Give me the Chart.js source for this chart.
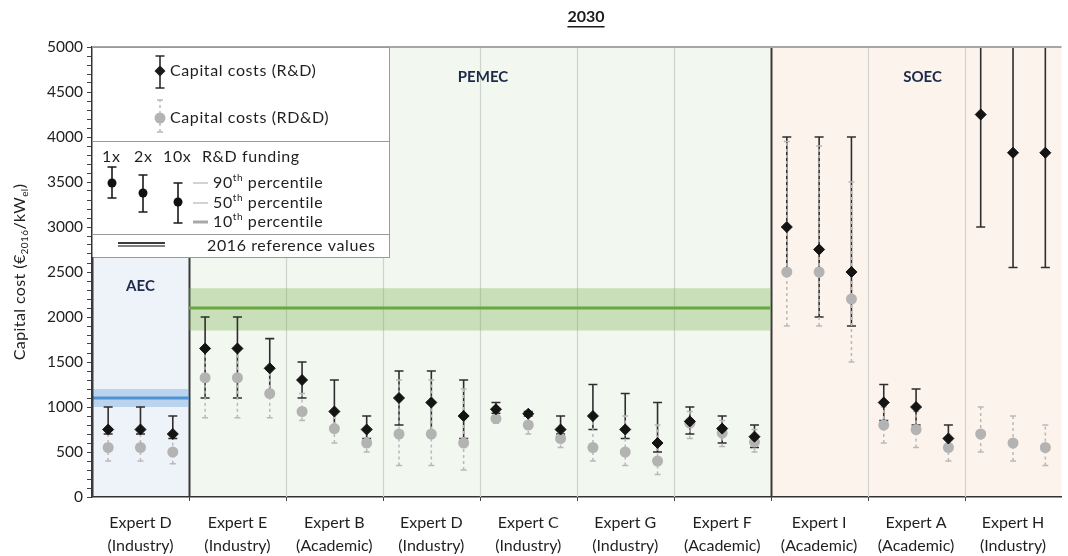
<!DOCTYPE html>
<html>
<head>
<meta charset="utf-8">
<title>Capital cost 2030</title>
<script src="https://cdn.jsdelivr.net/npm/chart.js@4.4.0/dist/chart.umd.min.js"></script>
<style>
  html, body { margin: 0; padding: 0; background: #fff; }
  #wrap { width: 1068px; height: 556px; position: relative; }
</style>
</head>
<body>
<div id="wrap"><canvas id="costChart"></canvas></div>
<script>
// Experts, three points each (1x, 2x, 10x R&D funding)
const experts = [
  ['Expert D', '(Industry)'], ['Expert E', '(Industry)'], ['Expert B', '(Academic)'],
  ['Expert D', '(Industry)'], ['Expert C', '(Industry)'], ['Expert G', '(Industry)'],
  ['Expert F', '(Academic)'], ['Expert I', '(Academic)'], ['Expert A', '(Academic)'],
  ['Expert H', '(Industry)']
];

// Capital costs (R&D): 50th / 10th / 90th percentile
const rdMid  = [750, 750, 700, 1650, 1650, 1430, 1300, 950, 750, 1100, 1050, 900, 975, 925, 750,
                900, 750, 600, 840, 760, 670, 3000, 2750, 2500, 1050, 1000, 650, 4250, 3825, 3825];
const rdLow  = [700, 700, 650, 1100, 1100, 1150, 1100, 780, 650, 800, 700, 650, 930, 900, 700,
                750, 650, 500, 700, 600, 550, 2500, 2000, 1900, 850, 800, 550, 3000, 2550, 2550];
const rdHigh = [1000, 1000, 900, 2000, 2000, 1760, 1500, 1300, 900, 1400, 1400, 1300, 1050, 950, 900,
                1250, 1150, 1050, 1000, 900, 800, 4000, 4000, 4000, 1250, 1200, 800, 5600, 5600, 5600];

// Capital costs (RD&D)
const rddMid  = [550, 550, 500, 1325, 1325, 1150, 950, 760, 600, 700, 700, 600, 870, 800, 650,
                 550, 500, 400, 820, 710, 610, 2500, 2500, 2200, 800, 750, 550, 700, 600, 550];
const rddLow  = [400, 400, 370, 880, 880, 880, 850, 600, 500, 350, 350, 300, 820, 700, 550,
                 400, 350, 250, 650, 560, 500, 1900, 1900, 1500, 600, 550, 400, 500, 400, 350];
const rddHigh = [750, 750, 700, 1650, 1650, 1430, 1150, 950, 750, 1300, 1300, 1200, 970, 920, 750,
                 900, 900, 800, 950, 850, 750, 3950, 3900, 3500, 1000, 950, 650, 1000, 900, 800];

// Technologies and how many experts each spans
const techNames  = ['AEC', 'PEMEC', 'SOEC'];
const techGroups = [1, 6, 3];
// 2016 reference values (centre, lower, upper)
const refValues = [1100, 2100, null];
const refLow    = [1000, 1850, null];
const refHigh   = [1200, 2320, null];

const yTicksMax = 5000;

const FONT = 'Lato, "Open Sans", sans-serif';
const techFill = ['#eef3fa', '#f2f7ef', '#fdf3ed'];
const refBand  = ['rgba(91,155,213,0.35)', 'rgba(112,173,71,0.32)', null];
const refLine  = ['#4f92d6', '#68a840', null];

function diamond(ctx, x, y, r) {
  ctx.beginPath();
  ctx.moveTo(x, y - r);
  ctx.lineTo(x + r, y);
  ctx.lineTo(x, y + r);
  ctx.lineTo(x - r, y);
  ctx.closePath();
  ctx.fill();
}

function dot(ctx, x, y, r) {
  ctx.beginPath();
  ctx.arc(x, y, r, 0, Math.PI * 2);
  ctx.fill();
}

function whisker(ctx, x, yLow, yHigh, cap, top, bottom) {
  ctx.beginPath();
  ctx.moveTo(x, yLow);
  ctx.lineTo(x, yHigh);
  ctx.stroke();
  ctx.save();
  ctx.setLineDash([]);
  ctx.beginPath();
  [yLow, yHigh].forEach(y => {
    if (y >= top && y <= bottom) {
      ctx.moveTo(x - cap, y);
      ctx.lineTo(x + cap, y);
    }
  });
  ctx.stroke();
  ctx.restore();
}

// text with a raised or lowered part, e.g. 90th or €2016
function richText(ctx, parts, x, y, size) {
  let cx = x;
  parts.forEach(([txt, mode]) => {
    const s = mode ? Math.round(size * 0.65) : size;
    ctx.font = `${s}px ${FONT}`;
    const dy = mode === 'sup' ? -size * 0.35 : mode === 'sub' ? size * 0.3 : 0;
    ctx.fillText(txt, cx, y + dy);
    cx += ctx.measureText(txt).width;
  });
  return cx - x;
}

function measureRich(ctx, parts, size) {
  let w = 0;
  parts.forEach(([txt, mode]) => {
    ctx.font = `${mode ? Math.round(size * 0.65) : size}px ${FONT}`;
    w += ctx.measureText(txt).width;
  });
  return w;
}

const decorations = {
  id: 'decorations',
  beforeDraw(chart) {
    const { ctx, chartArea: a, scales: { x } } = chart;
    ctx.save();
    let g = 0;
    techGroups.forEach((n, t) => {
      const x0 = x.getPixelForValue(g * 3), x1 = x.getPixelForValue((g + n) * 3);
      ctx.fillStyle = techFill[t];
      ctx.fillRect(x0, a.top, x1 - x0, a.bottom - a.top);
      g += n;
    });
    ctx.restore();
  },
  beforeDatasetsDraw(chart) {
    const { ctx, chartArea: a, scales: { x, y } } = chart;
    ctx.save();

    // separators between experts and technologies
    const bounds = [];
    techGroups.reduce((acc, n) => { bounds.push(acc + n); return acc + n; }, 0);
    for (let g = 1; g < experts.length; g++) {
      const px = Math.round(x.getPixelForValue(g * 3)) + 0.5;
      const isTech = bounds.includes(g);
      ctx.strokeStyle = isTech ? '#3a3a3a' : '#cfd3cf';
      ctx.lineWidth = isTech ? 2 : 1.2;
      ctx.beginPath();
      ctx.moveTo(px, a.top);
      ctx.lineTo(px, a.bottom);
      ctx.stroke();
      ctx.strokeStyle = '#444';
      ctx.lineWidth = 1;
      ctx.beginPath();
      ctx.moveTo(px, a.bottom);
      ctx.lineTo(px, a.bottom + 4);
      ctx.stroke();
    }

    // 2016 reference bands and lines
    let g = 0;
    techGroups.forEach((n, t) => {
      const x0 = x.getPixelForValue(g * 3), x1 = x.getPixelForValue((g + n) * 3);
      g += n;
      if (refValues[t] == null) return;
      const yHi = y.getPixelForValue(refHigh[t]), yLo = y.getPixelForValue(refLow[t]);
      ctx.fillStyle = refBand[t];
      ctx.fillRect(x0, yHi, x1 - x0, yLo - yHi);
      ctx.strokeStyle = refLine[t];
      ctx.lineWidth = 3;
      ctx.beginPath();
      ctx.moveTo(x0, y.getPixelForValue(refValues[t]));
      ctx.lineTo(x1, y.getPixelForValue(refValues[t]));
      ctx.stroke();
    });

    // percentile whiskers
    ctx.beginPath();
    ctx.rect(a.left, a.top, a.right - a.left, a.bottom - a.top);
    ctx.clip();
    ctx.strokeStyle = '#2e2e2e';
    ctx.lineWidth = 1.6;
    rdMid.forEach((v, i) => {
      whisker(ctx, x.getPixelForValue(i + 0.5), y.getPixelForValue(rdLow[i]),
        y.getPixelForValue(rdHigh[i]), 4.5, a.top, a.bottom);
    });
    ctx.strokeStyle = '#b9b9b9';
    ctx.lineWidth = 1.5;
    ctx.setLineDash([3, 3]);
    rddMid.forEach((v, i) => {
      whisker(ctx, x.getPixelForValue(i + 0.5), y.getPixelForValue(rddLow[i]),
        y.getPixelForValue(rddHigh[i]), 3, a.top, a.bottom);
    });
    ctx.restore();
  },
  afterDraw(chart) {
    const { ctx, chartArea: a, scales: { x } } = chart;
    ctx.save();

    // top frame
    ctx.strokeStyle = '#a6a6a6';
    ctx.lineWidth = 2;
    ctx.beginPath();
    ctx.moveTo(a.left, a.top);
    ctx.lineTo(a.right, a.top);
    ctx.stroke();

    // legend box
    const L = a.left, T = a.top;
    ctx.fillStyle = '#fff';
    ctx.fillRect(L, T, 297, 210);
    ctx.strokeStyle = '#9a9a9a';
    ctx.lineWidth = 1;
    ctx.strokeRect(L + 0.5, T + 0.5, 297, 210);
    ctx.beginPath();
    ctx.moveTo(L, T + 94.5); ctx.lineTo(L + 297, T + 94.5);
    ctx.moveTo(L, T + 187.5); ctx.lineTo(L + 297, T + 187.5);
    ctx.stroke();
    ctx.strokeStyle = '#3a3a3a';
    ctx.lineWidth = 2;
    ctx.beginPath();
    ctx.moveTo(L + 0.5, T + 210); ctx.lineTo(L + 0.5, a.bottom);
    ctx.stroke();

    ctx.textBaseline = 'middle';
    ctx.textAlign = 'left';
    ctx.letterSpacing = '0.6px';

    // series samples
    ctx.strokeStyle = '#2a2a2a';
    ctx.lineWidth = 1.6;
    whisker(ctx, L + 68, T + 41, T + 9, 4.5, 0, 999);
    ctx.fillStyle = '#1a1a1a';
    diamond(ctx, L + 68, T + 24, 5.5);
    ctx.strokeStyle = '#b9b9b9';
    ctx.lineWidth = 1.5;
    ctx.setLineDash([3, 3]);
    whisker(ctx, L + 68, T + 85, T + 53, 3, 0, 999);
    ctx.setLineDash([]);
    ctx.fillStyle = '#b3b3b3';
    dot(ctx, L + 68, T + 71, 5.5);
    ctx.fillStyle = '#1f1f1f';
    ctx.font = `16px ${FONT}`;
    ctx.fillText('Capital costs (R&D)', L + 78, T + 24);
    ctx.fillText('Capital costs (RD&D)', L + 78, T + 71);

    // funding levels
    ctx.fillText('1x', L + 10, T + 110);
    ctx.fillText('2x', L + 42, T + 110);
    ctx.fillText('10x', L + 71, T + 110);
    ctx.fillText('R&D funding', L + 110, T + 110);
    ctx.strokeStyle = '#1a1a1a';
    ctx.lineWidth = 1.6;
    ctx.fillStyle = '#111';
    [[20, 120, 136, 151], [51, 128, 146, 165], [86, 136, 155, 176]].forEach(([dx, hi, mid, lo]) => {
      whisker(ctx, L + dx, T + lo, T + hi, 4.5, 0, 999);
      dot(ctx, L + dx, T + mid, 4.5);
    });
    ctx.fillStyle = '#1f1f1f';
    [['90', 136, '#c4c4c4', 1.5], ['50', 156, '#c4c4c4', 1.5], ['10', 175, '#a8a8a8', 3]].forEach(([p, dy, col, w]) => {
      ctx.strokeStyle = col;
      ctx.lineWidth = w;
      ctx.beginPath();
      ctx.moveTo(L + 101, T + dy);
      ctx.lineTo(L + 116, T + dy);
      ctx.stroke();
      richText(ctx, [[p, null], ['th', 'sup'], [' percentile', null]], L + 121, T + dy, 16);
    });

    // reference value sample
    ctx.strokeStyle = '#3c3c3c';
    ctx.lineWidth = 2;
    ctx.beginPath();
    ctx.moveTo(L + 26, T + 196); ctx.lineTo(L + 73, T + 196);
    ctx.stroke();
    ctx.strokeStyle = '#808080';
    ctx.beginPath();
    ctx.moveTo(L + 26, T + 199); ctx.lineTo(L + 73, T + 199);
    ctx.stroke();
    ctx.font = `16px ${FONT}`;
    ctx.fillText('2016 reference values', L + 115, T + 199);
    ctx.letterSpacing = '0px';

    // technology labels
    ctx.fillStyle = '#1d2a4a';
    ctx.font = `bold 15px ${FONT}`;
    ctx.textAlign = 'center';
    ctx.fillText(techNames[0], x.getPixelForValue(1.5), 286);
    ctx.fillText(techNames[1], x.getPixelForValue(12.1), 77);
    ctx.fillText(techNames[2], x.getPixelForValue(25.7), 77);

    // title
    ctx.fillStyle = '#1a1a1a';
    ctx.font = `bold 16px ${FONT}`;
    ctx.fillText('2030', 586, 17);
    const tw = ctx.measureText('2030').width;
    ctx.fillRect(586 - tw / 2, 26, tw, 1.5);

    // y axis title
    ctx.translate(20, (a.top + a.bottom) / 2);
    ctx.rotate(-Math.PI / 2);
    const parts = [['Capital cost (€', null], ['2016', 'sub'], ['/kW', null], ['el', 'sub'], [')', null]];
    ctx.textAlign = 'left';
    ctx.fillStyle = '#222';
    ctx.letterSpacing = '0.4px';
    richText(ctx, parts, -measureRich(ctx, parts, 16) / 2, 0, 16);
    ctx.restore();
  }
};

const ctx = document.getElementById('costChart');

new Chart(ctx, {
  type: 'scatter',
  data: {
    datasets: [{
      label: 'Capital costs (R&D)',
      data: rdMid.map((v, i) => ({ x: i + 0.5, y: v })),
      pointStyle: 'rectRot',
      pointRadius: 5.5,
      backgroundColor: '#141414',
      borderColor: '#141414',
      borderWidth: 1
    }, {
      label: 'Capital costs (RD&D)',
      data: rddMid.map((v, i) => ({ x: i + 0.5, y: v })),
      pointStyle: 'circle',
      pointRadius: 5.5,
      backgroundColor: '#b3b3b3',
      borderColor: '#b3b3b3',
      borderWidth: 0
    }]
  },
  options: {
    responsive: true,
    maintainAspectRatio: false,
    animation: false,
    layout: { padding: { top: 47, left: 0, right: 0, bottom: 0 } },
    scales: {
      x: {
        type: 'linear',
        min: 0,
        max: experts.length * 3,
        afterBuildTicks: scale => {
          scale.ticks = experts.map((e, i) => ({ value: i * 3 + 1.5 }));
        },
        afterFit: scale => { scale.height = 59; },
        grid: { display: false },
        border: { display: true, color: '#333', width: 1.5 },
        ticks: {
          autoSkip: false,
          maxRotation: 0,
          padding: 7,
          color: '#1f1f1f',
          font: { family: FONT, size: 16, lineHeight: 1.4 },
          callback: (v, i) => experts[i]
        }
      },
      y: {
        min: 0,
        max: yTicksMax,
        afterFit: scale => { scale.width = 92; },
        grid: { drawOnChartArea: false, drawTicks: true, tickLength: 5, color: '#444' },
        border: { display: true, color: '#333', width: 1.5 },
        ticks: {
          stepSize: 100,
          autoSkip: false,
          padding: 4,
          color: '#1f1f1f',
          font: { family: FONT, size: 15.5 },
          callback: v => (v % 500 === 0 ? v : '')
        }
      }
    },
    plugins: {
      legend: { display: false },
      tooltip: { enabled: false }
    }
  },
  plugins: [decorations]
});
</script>
</body>
</html>
